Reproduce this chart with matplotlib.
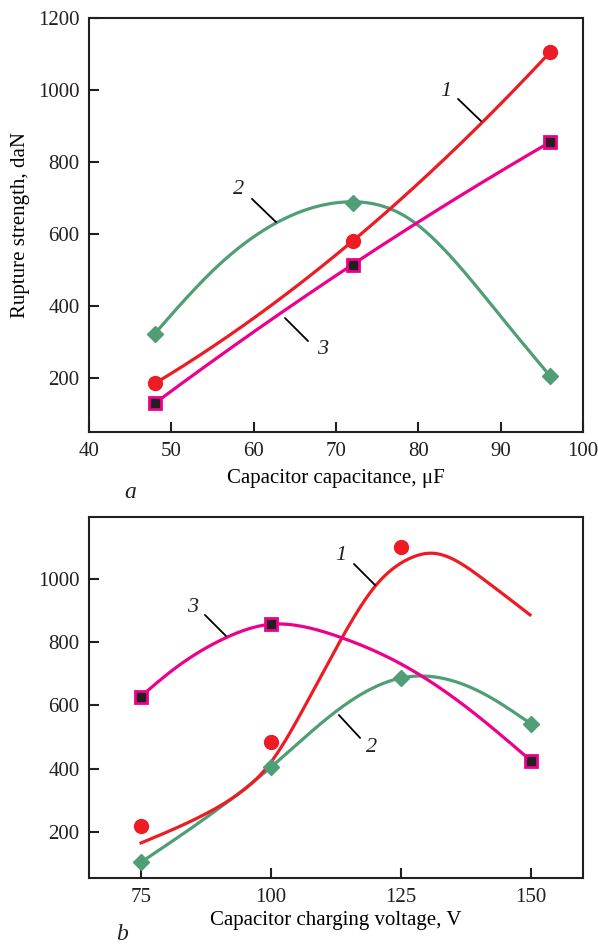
import numpy as np
import matplotlib
matplotlib.use('Agg')
import matplotlib.pyplot as plt

plt.rcParams['font.family'] = ['Liberation Serif', 'DejaVu Serif']

# colours
RED = '#ED1C24'
GREEN = '#4F9E76'
MAGENTA = '#EC008C'
DARK = '#231F20'

# ---- panel a : capacitance ----
cap = [48, 72, 96]
a_red = [185, 580, 1105]      # curve 1
a_green = [322, 686, 206]     # curve 2
a_mag = [130, 515, 855]       # curve 3
# points read along the drawn curve 2 (it bulges between the markers)
a_green_cx = [48, 55.5, 63, 71, 78.6, 85, 90.8, 96]
a_green_cy = [322, 511, 633, 687, 650, 511, 344, 206]

# ---- panel b : charging voltage ----
volt = [75, 100, 125, 150]
b_red_x = [75, 100, 125]
b_red = [218, 485, 1100]
b_green = [105, 406, 687, 541]
b_mag_x = [75, 100, 150]
b_mag = [628, 858, 425]
# points
b_red_cx = [75, 87.4, 93.8, 99.6, 102.8, 106.7, 113.7, 120.1, 126.5, 131, 140.6, 149.8]
b_red_cy = [166, 259, 323, 405, 490, 608, 816, 981, 1060, 1085, 1000, 886]
b_green_cx = [75, 100, 112.4, 125, 131, 140.6, 150]
b_green_cy = [105, 406, 580, 687, 691, 639, 541]
b_mag_cx = [75, 81, 91.3, 100, 105.4, 113.7, 124.6, 137.4, 150]
b_mag_cy = [628, 712, 813, 858, 851, 813, 734, 596, 425]


def smooth(xk, yk, p=10.0, n=300):
    # penalised (smoothing-spline like) curve through the read points
    xs = np.linspace(min(xk), max(xk), n)
    h = xs[1] - xs[0]
    w = np.zeros(n)
    b = np.zeros(n)
    for xv, yv in zip(xk, yk):
        i = int(round((xv - xs[0]) / h))
        w[i] += 1
        b[i] += yv
    D = np.diff(np.eye(n), 2, axis=0)
    z = np.linalg.solve(np.diag(w) + p / h**3 * D.T @ D, b)
    return xs, z


def quad(xk, yk, n=300):
    c = np.polyfit(xk, yk, 2)
    xs = np.linspace(min(xk), max(xk), n)
    return xs, np.polyval(c, xs)


def style_axes(ax):
    for s in ax.spines.values():
        s.set_linewidth(1.5)
        s.set_color(DARK)
    ax.tick_params(direction='in', length=7, width=1.5, labelsize=15,
                   colors=DARK, top=False, right=False, pad=7)


def leader(ax, txt, p_text, p0, p1):
    ax.annotate('', xy=p1, xytext=p0, xycoords='figure pixels',
                arrowprops=dict(arrowstyle='-', color='black', lw=1.3))
    ax.text(*p_text, txt, transform=None, fontsize=16, style='italic',
            ha='center', va='center', color=DARK)


LW = 2.3
fig = plt.figure(figsize=(5.98, 9.44), dpi=100)
H = 944

# ---------- panel a ----------
ax1 = fig.add_axes([0.149, 0.5424, 0.826, 0.4386])
x, y = quad(cap, a_red)
ax1.plot(x, y, color=RED, lw=LW, zorder=3)
ax1.plot(cap, a_red, 'o', color=RED, ms=10, zorder=4)
x, y = smooth(a_green_cx, a_green_cy)
ax1.plot(x, y, color=GREEN, lw=LW, zorder=2)
ax1.plot(cap, a_green, 'D', color=GREEN, ms=8, zorder=4)
x, y = quad(cap, a_mag)
ax1.plot(x, y, color=MAGENTA, lw=LW, zorder=3)
ax1.plot(cap, a_mag, 's', mfc=DARK, mec=MAGENTA, mew=2, ms=9, zorder=4)

ax1.set_xlim(40, 100)
ax1.set_ylim(50, 1200)
ax1.set_xticks(range(40, 101, 10))
ax1.set_yticks(range(200, 1201, 200))
style_axes(ax1)
ax1.set_xlabel('Capacitor capacitance, \u03bcF', fontsize=15, labelpad=6)
ax1.set_ylabel('Rupture strength, daN', fontsize=15, labelpad=6)

leader(ax1, '1', (446, H - 92), (456, H - 97), (483, H - 123))
leader(ax1, '2', (239, H - 190), (250, H - 197), (278, H - 224))
leader(ax1, '3', (323, H - 350), (310, H - 343), (283, H - 316))
fig.text(130 / 598, 1 - 492 / H, 'a', fontsize=17, style='italic',
         ha='center', va='center', color=DARK)

# ---------- panel b ----------
ax2 = fig.add_axes([0.149, 0.0699, 0.826, 0.3824])
x, y = smooth(b_red_cx, b_red_cy)
ax2.plot(x, y, color=RED, lw=LW, zorder=3)
ax2.plot(b_red_x, b_red, 'o', color=RED, ms=10, zorder=4)
x, y = smooth(b_green_cx, b_green_cy)
ax2.plot(x, y, color=GREEN, lw=LW, zorder=2)
ax2.plot(volt, b_green, 'D', color=GREEN, ms=8, zorder=4)
x, y = smooth(b_mag_cx, b_mag_cy)
ax2.plot(x, y, color=MAGENTA, lw=LW, zorder=3)
ax2.plot(b_mag_x, b_mag, 's', mfc=DARK, mec=MAGENTA, mew=2, ms=9, zorder=4)

ax2.set_xlim(65, 160)
ax2.set_ylim(55, 1195)
ax2.set_xticks(volt)
ax2.set_yticks(range(200, 1001, 200))
style_axes(ax2)
ax2.set_xlabel('Capacitor charging voltage, V', fontsize=15, labelpad=3)

leader(ax2, '1', (341, H - 555), (352, H - 562), (377, H - 587))
leader(ax2, '3', (193, H - 607), (203, H - 613), (228, H - 638))
leader(ax2, '2', (372, H - 747), (362, H - 740), (337, H - 713))
fig.text(122 / 598, 1 - 934 / H, 'b', fontsize=17, style='italic',
         ha='center', va='center', color=DARK)

fig.savefig('out.png', dpi=100)
